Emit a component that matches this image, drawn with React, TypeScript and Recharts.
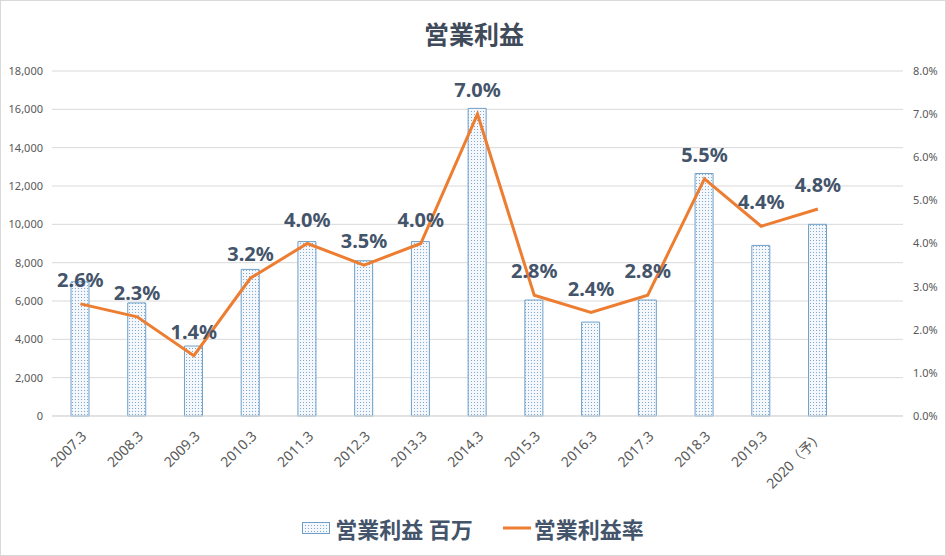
import { ComposedChart, Bar, Line, XAxis, YAxis, CartesianGrid, Legend, LabelList } from 'recharts'

const periods = ['2007.3', '2008.3', '2009.3', '2010.3', '2011.3', '2012.3', '2013.3', '2014.3', '2015.3', '2016.3', '2017.3', '2018.3', '2019.3', '2020（予）', '']
const profit = [7000, 5900, 3650, 7650, 9100, 8100, 9100, 16050, 6050, 4900, 6050, 12650, 8900, 10000, null]
const margin = [2.6, 2.3, 1.4, 3.2, 4.0, 3.5, 4.0, 7.0, 2.8, 2.4, 2.8, 5.5, 4.4, 4.8, null]
const leftTicks = [0, 2000, 4000, 6000, 8000, 10000, 12000, 14000, 16000, 18000]
const rightTicks = [0, 1, 2, 3, 4, 5, 6, 7, 8]

const BAR_NAME = '営業利益 百万'
const LINE_NAME = '営業利益率'

const FONT = '"Noto Sans", "Noto Sans CJK JP", sans-serif'
const TEXT = '#44546A'
const AXIS_TEXT = '#595959'

const chartData = periods.map((p, i) => ({
  period: p,
  [BAR_NAME]: profit[i],
  [LINE_NAME]: margin[i]
}))

const LegendContent = () => (
  <div
    style={{
      height: 50,
      paddingBottom: 6,
      boxSizing: 'border-box',
      display: 'flex',
      alignItems: 'center',
      justifyContent: 'center',
      fontFamily: FONT,
      fontSize: 22,
      fontWeight: 700,
      color: TEXT
    }}
  >
    <svg width={28} height={12} style={{ marginRight: 5 }}>
      <rect x={0.5} y={0.5} width={27} height={11} fill="url(#dots)" stroke="#6F9FC8" />
    </svg>
    <span>{BAR_NAME}</span>
    <svg width={28} height={12} style={{ marginLeft: 30, marginRight: 3 }}>
      <line x1={0} y1={6} x2={28} y2={6} stroke="#ED7D31" strokeWidth={3} />
    </svg>
    <span>{LINE_NAME}</span>
  </div>
)

export default function App() {
  return (
    <div
      style={{
        position: 'absolute',
        left: 0,
        top: 0,
        width: 946,
        height: 556,
        boxSizing: 'border-box',
        border: '1px solid #d9d9d9',
        background: '#fff',
        fontFamily: FONT
      }}
    >
      <div
        style={{
          position: 'absolute',
          top: 14,
          left: 0,
          width: 946,
          textAlign: 'center',
          fontSize: 25,
          fontWeight: 700,
          color: '#3F4A5A',
          fontFamily: '"Noto Sans CJK JP", sans-serif'
        }}
      >
        営業利益
      </div>
      <div style={{ position: 'absolute', left: -1, top: -1 }}>
        <ComposedChart
          width={946}
          height={556}
          data={chartData}
          margin={{ top: 71, right: 0, bottom: 0, left: 0 }}
        >
          <defs>
            <pattern id="dots" width={3} height={3} patternUnits="userSpaceOnUse">
              <rect width={3} height={3} fill="#F4F8FC" />
              <rect x={0} y={0} width={1} height={1} fill="#7FA9D0" />
            </pattern>
          </defs>
          <CartesianGrid vertical={false} stroke="#D9D9D9" yAxisId="left" />
          <XAxis
            dataKey="period"
            interval={0}
            angle={-45}
            textAnchor="end"
            height={90}
            tickLine={false}
            tickSize={0}
            tickMargin={14}
            stroke="#D9D9D9"
            tick={{ fill: AXIS_TEXT, fontSize: 14, fontFamily: FONT }}
          />
          <YAxis
            yAxisId="left"
            domain={[0, 18000]}
            ticks={leftTicks}
            width={52}
            axisLine={false}
            tickLine={false}
            tickSize={0}
            tickMargin={9}
            tickFormatter={(v: number) => v.toLocaleString('en-US')}
            tick={{ fill: AXIS_TEXT, fontSize: 11, fontFamily: FONT }}
          />
          <YAxis
            yAxisId="right"
            orientation="right"
            domain={[0, 8]}
            ticks={rightTicks}
            width={43}
            axisLine={false}
            tickLine={false}
            tickSize={0}
            tickMargin={10}
            tickFormatter={(v: number) => v.toFixed(1) + '%'}
            tick={{ fill: AXIS_TEXT, fontSize: 11, fontFamily: FONT, textAnchor: 'start' }}
          />
          <Legend verticalAlign="bottom" content={<LegendContent />} />
          <Bar
            yAxisId="left"
            dataKey={BAR_NAME}
            barSize={18}
            fill="url(#dots)"
            stroke="#6F9FC8"
            strokeWidth={1}
            isAnimationActive={false}
          />
          <Line
            yAxisId="right"
            type="linear"
            dataKey={LINE_NAME}
            stroke="#ED7D31"
            strokeWidth={3}
            dot={false}
            activeDot={false}
            isAnimationActive={false}
          >
            <LabelList
              dataKey={LINE_NAME}
              position="top"
              offset={17}
              formatter={(v: any) => (v == null ? '' : Number(v).toFixed(1) + '%')}
              style={{ fill: TEXT, fontSize: 20, fontWeight: 700, fontFamily: FONT }}
            />
          </Line>
        </ComposedChart>
      </div>
    </div>
  )
}
